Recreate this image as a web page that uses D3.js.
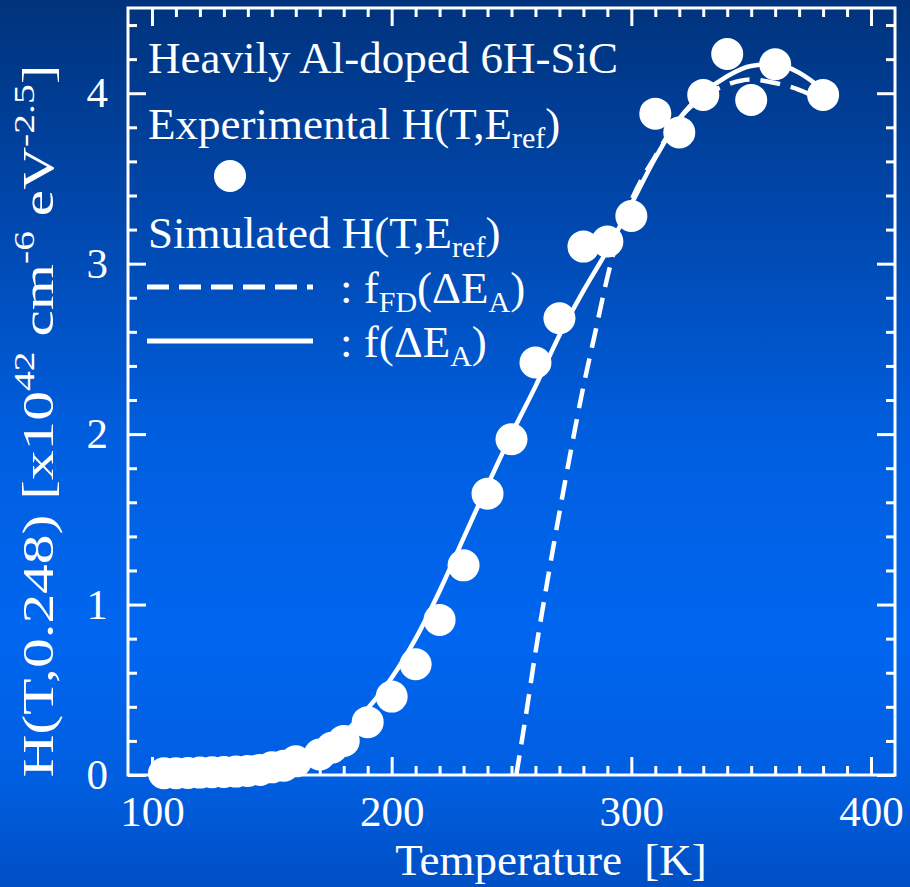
<!DOCTYPE html>
<html>
<head>
<meta charset="utf-8">
<script src="https://cdn.jsdelivr.net/npm/d3@7"></script>
<style>
  html, body { margin: 0; padding: 0; background: #0050c8; }
  svg { display: block; }
  text { font-family: "Liberation Serif", "Times New Roman", serif; fill: #fff; white-space: pre; }
</style>
</head>
<body>
<svg id="chart" width="910" height="887"></svg>
<script>
// Experimental H(T, 0.248) for heavily Al-doped 6H-SiC (units of 1e42 cm^-6 eV^-2.5)
const expT = [105, 110, 115, 120, 125, 130, 135, 140, 145, 150, 155, 160, 170, 175, 180, 190, 200, 210, 220, 230, 240, 250, 260, 270, 280, 290, 300, 310, 320, 330, 340, 350, 360, 380];
const expH = [0.01, 0.01, 0.012, 0.014, 0.016, 0.018, 0.02, 0.024, 0.03, 0.045, 0.055, 0.08, 0.12, 0.16, 0.2, 0.31, 0.46, 0.65, 0.91, 1.23, 1.65, 1.97, 2.42, 2.68, 3.10, 3.13, 3.28, 3.88, 3.77, 3.99, 4.23, 3.96, 4.17, 3.99];

// Simulated curve using f(ΔE_A)
const simT = [100, 110, 120, 130, 140, 150, 160, 170, 180, 190, 200, 210, 220, 230, 240, 250, 260, 270, 280, 290, 300, 310, 320, 330, 340, 350, 360, 370, 380];
const simH = [0.005, 0.008, 0.012, 0.018, 0.028, 0.05, 0.085, 0.145, 0.245, 0.39, 0.57, 0.80, 1.08, 1.39, 1.70, 2.0, 2.28, 2.58, 2.84, 3.08, 3.35, 3.62, 3.85, 4.0, 4.10, 4.16, 4.17, 4.12, 4.02];

// Simulated curve using the Fermi-Dirac distribution f_FD(ΔE_A)
const fdT = [252, 256, 260, 265, 270, 275, 280, 285, 290, 295, 300, 310, 320, 330, 340, 350, 360, 370, 378];
const fdH = [0, 0.35, 0.72, 1.14, 1.54, 1.92, 2.28, 2.6, 2.92, 3.18, 3.37, 3.63, 3.85, 3.98, 4.05, 4.08, 4.06, 4.02, 3.97];

const xMajor = [100, 200, 300, 400];
const yMajor = [0, 1, 2, 3, 4];

const svg = d3.select("#chart");
const W = 910, H = 887;

// background gradient
const defs = svg.append("defs");
const grad = defs.append("linearGradient").attr("id", "bg").attr("x1", 0).attr("y1", 0).attr("x2", 0).attr("y2", 1);
[[0, "#00337c"], [0.25, "#0048ae"], [0.5, "#005fe0"], [0.72, "#0066f0"], [0.88, "#005ee0"], [1, "#004fc4"]]
  .forEach(([o, c]) => grad.append("stop").attr("offset", o).attr("stop-color", c));
svg.append("rect").attr("width", W).attr("height", H).attr("fill", "url(#bg)");

const pL = 128, pR = 895, pT = 8, pB = 775;
const x = d3.scaleLinear().domain([90, 410]).range([pL, pR]);
const y = d3.scaleLinear().domain([0, 4.5]).range([pB, pT]);

const xMinor = d3.range(100, 401, 10).filter(v => !xMajor.includes(v));
const yMinor = d3.range(0.2, 4.41, 0.2).map(v => +v.toFixed(1)).filter(v => !yMajor.includes(v));

const g = svg.append("g");

function styleAxis(sel) {
  sel.select(".domain").remove();
  sel.selectAll("line").attr("stroke", "#fff").attr("stroke-width", 3);
  sel.selectAll("text").attr("font-size", 43).attr("fill", "#fff")
     .style("font-family", '"Liberation Serif", "Times New Roman", serif');
}

// bottom axis (labels + inward ticks)
g.append("g").attr("transform", `translate(0,${pB})`)
  .call(d3.axisBottom(x).tickValues(xMajor).tickSizeInner(-18).tickSizeOuter(0).tickPadding(20).tickFormat(d3.format("d")))
  .call(styleAxis);
g.append("g").attr("transform", `translate(0,${pB})`)
  .call(d3.axisBottom(x).tickValues(xMinor).tickSizeInner(-9).tickSizeOuter(0).tickFormat(""))
  .call(styleAxis);
// top axis (ticks only)
g.append("g").attr("transform", `translate(0,${pT})`)
  .call(d3.axisTop(x).tickValues(xMajor).tickSizeInner(-18).tickSizeOuter(0).tickFormat(""))
  .call(styleAxis);
g.append("g").attr("transform", `translate(0,${pT})`)
  .call(d3.axisTop(x).tickValues(xMinor).tickSizeInner(-9).tickSizeOuter(0).tickFormat(""))
  .call(styleAxis);
// left axis
g.append("g").attr("transform", `translate(${pL},0)`)
  .call(d3.axisLeft(y).tickValues(yMajor).tickSizeInner(-18).tickSizeOuter(0).tickPadding(20).tickFormat(d3.format("d")))
  .call(styleAxis);
g.append("g").attr("transform", `translate(${pL},0)`)
  .call(d3.axisLeft(y).tickValues(yMinor).tickSizeInner(-9).tickSizeOuter(0).tickFormat(""))
  .call(styleAxis);
// right axis
g.append("g").attr("transform", `translate(${pR},0)`)
  .call(d3.axisRight(y).tickValues(yMajor).tickSizeInner(-18).tickSizeOuter(0).tickFormat(""))
  .call(styleAxis);
g.append("g").attr("transform", `translate(${pR},0)`)
  .call(d3.axisRight(y).tickValues(yMinor).tickSizeInner(-9).tickSizeOuter(0).tickFormat(""))
  .call(styleAxis);

// frame
g.append("rect").attr("x", pL).attr("y", pT).attr("width", pR - pL).attr("height", pB - pT)
  .attr("fill", "none").attr("stroke", "#fff").attr("stroke-width", 3);

// curves
const line = d3.line().x(d => x(d[0])).y(d => y(d[1])).curve(d3.curveMonotoneX);
g.append("path").datum(fdT.map((t, i) => [t, fdH[i]]))
  .attr("d", line).attr("fill", "none").attr("stroke", "#fff").attr("stroke-width", 4.5)
  .attr("stroke-dasharray", "20,11");
g.append("path").datum(simT.map((t, i) => [t, simH[i]]))
  .attr("d", line).attr("fill", "none").attr("stroke", "#fff").attr("stroke-width", 4.5);

// experimental points
g.selectAll("circle.exp").data(expT.map((t, i) => [t, expH[i]])).join("circle")
  .attr("class", "exp").attr("cx", d => x(d[0])).attr("cy", d => y(d[1])).attr("r", 16).attr("fill", "#fff");

// legend / annotations
const fs = 45, sub = 30;
g.append("text").attr("x", 148).attr("y", 73).attr("font-size", fs).text("Heavily Al-doped 6H-SiC");

const t1 = g.append("text").attr("x", 148).attr("y", 139).attr("font-size", fs);
t1.append("tspan").text("Experimental H(T,E");
t1.append("tspan").attr("font-size", sub).attr("dy", 9).text("ref");
t1.append("tspan").attr("dy", -9).text(")");

g.append("circle").attr("cx", 230).attr("cy", 176).attr("r", 16).attr("fill", "#fff");

const t2 = g.append("text").attr("x", 148).attr("y", 248).attr("font-size", fs);
t2.append("tspan").text("Simulated H(T,E");
t2.append("tspan").attr("font-size", sub).attr("dy", 9).text("ref");
t2.append("tspan").attr("dy", -9).text(")");

g.append("line").attr("x1", 147).attr("x2", 313).attr("y1", 287).attr("y2", 287)
  .attr("stroke", "#fff").attr("stroke-width", 5).attr("stroke-dasharray", "22,10");
g.append("line").attr("x1", 147).attr("x2", 313).attr("y1", 341).attr("y2", 341)
  .attr("stroke", "#fff").attr("stroke-width", 5);

const t3 = g.append("text").attr("x", 340).attr("y", 303).attr("font-size", fs);
t3.append("tspan").text(": f");
t3.append("tspan").attr("font-size", sub).attr("dy", 9).text("FD");
t3.append("tspan").attr("dy", -9).text("(ΔE");
t3.append("tspan").attr("font-size", sub).attr("dy", 9).text("A");
t3.append("tspan").attr("dy", -9).text(")");

const t4 = g.append("text").attr("x", 340).attr("y", 357).attr("font-size", fs);
t4.append("tspan").text(": f(ΔE");
t4.append("tspan").attr("font-size", sub).attr("dy", 9).text("A");
t4.append("tspan").attr("dy", -9).text(")");

// axis titles
g.append("text").attr("x", 551).attr("y", 875).attr("text-anchor", "middle").attr("font-size", fs)
  .text("Temperature  [K]");

const yl = g.append("text").attr("transform", "translate(53,421) rotate(-90) scale(1.32,1)")
  .attr("text-anchor", "middle").attr("font-size", fs);
yl.append("tspan").text("H(T,0.248) [x10");
yl.append("tspan").attr("font-size", sub).attr("dy", -19).text("42");
yl.append("tspan").attr("dy", 19).text(" cm");
yl.append("tspan").attr("font-size", sub).attr("dy", -19).text("-6");
yl.append("tspan").attr("dy", 19).text(" eV");
yl.append("tspan").attr("font-size", sub).attr("dy", -19).text("-2.5");
yl.append("tspan").attr("dy", 19).text("]");
</script>
</body>
</html>
